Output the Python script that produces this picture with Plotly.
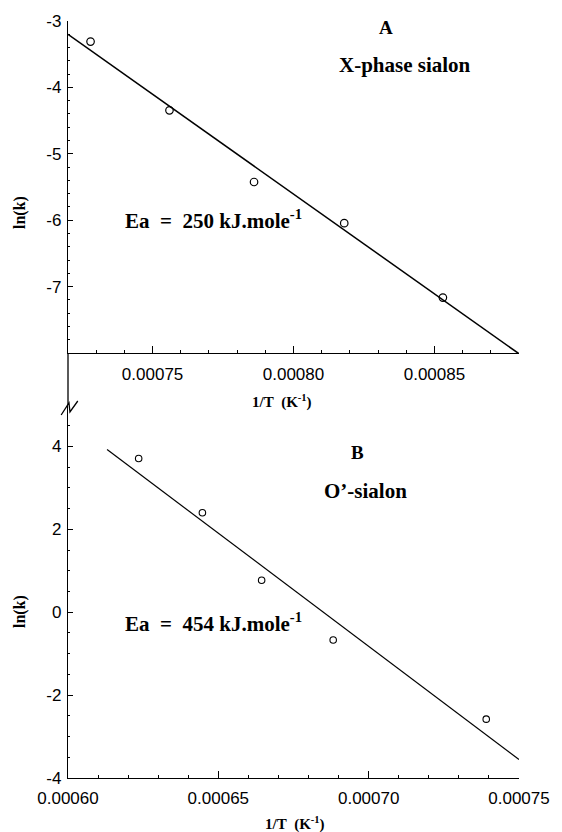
import numpy as np
import plotly.graph_objects as go

# Arrhenius data: reciprocal temperature (1/K) and ln(k)
inv_t_x = [0.000728, 0.000756, 0.000786, 0.000818, 0.000853]
lnk_x = [-3.31, -4.345, -5.425, -6.045, -7.165]

inv_t_o = [0.0006235, 0.0006447, 0.0006644, 0.0006882, 0.0007391]
lnk_o = [3.71, 2.40, 0.77, -0.67, -2.58]

# Fitted activation energies (kJ/mol) and ln(A) intercepts
ea_kj = [250, 454]
ln_a = [18.45, 37.40]
fit_span_x = [0.00072, 0.00088]
fit_span_o = [0.000613, 0.00075]

R = 8.314e-3  # kJ/(mol K)

W, H = 562, 832
ML, MR, MT, MB = 68, 33, 21, 54
PW, PH = W - ML - MR, H - MT - MB


def paper(xp, yp):
    return (xp - ML) / PW, (H - MB - yp) / PH


top_lo = paper(0, 353)[1]
bot_hi = paper(0, 405)[1]


def fit_line(span, ea, lna):
    xs = np.array(span)
    return xs, lna - ea / R * xs


TICKFONT = dict(family="Liberation Sans, Arial, sans-serif", size=17, color="black")
SERIF = "Liberation Serif, Times New Roman, serif"

fig = go.Figure()

fx, fy = fit_line(fit_span_x, ea_kj[0], ln_a[0])
fig.add_trace(go.Scatter(x=fx, y=fy, mode="lines", line=dict(color="black", width=1.5),
                         xaxis="x", yaxis="y", showlegend=False))
fig.add_trace(go.Scatter(x=inv_t_x, y=lnk_x, mode="markers",
                         marker=dict(symbol="circle-open", size=7.5, color="black", line=dict(width=1.2)),
                         xaxis="x", yaxis="y", showlegend=False))

gx, gy = fit_line(fit_span_o, ea_kj[1], ln_a[1])
fig.add_trace(go.Scatter(x=gx, y=gy, mode="lines", line=dict(color="black", width=1.2),
                         xaxis="x2", yaxis="y2", showlegend=False))
fig.add_trace(go.Scatter(x=inv_t_o, y=lnk_o, mode="markers",
                         marker=dict(symbol="circle-open", size=6.5, color="black", line=dict(width=1.1)),
                         xaxis="x2", yaxis="y2", showlegend=False))

axis_common = dict(showline=True, linecolor="black", linewidth=1.3, showgrid=False,
                   zeroline=False, ticks="inside", tickcolor="black", tickwidth=1.2,
                   tickfont=TICKFONT)

fig.update_layout(
    width=W, height=H,
    margin=dict(l=ML, r=MR, t=MT, b=MB),
    paper_bgcolor="white", plot_bgcolor="white",
    xaxis=dict(axis_common, domain=[0, 1], anchor="y", range=[0.00072, 0.00088],
               tickmode="linear", tick0=0.00075, dtick=0.00005, tickformat=".5f",
               ticklen=7, ticklabelstandoff=5,
               minor=dict(ticks="inside", ticklen=3, tickcolor="black", dtick=0.00001, tick0=0.00072)),
    yaxis=dict(axis_common, domain=[top_lo, 1], anchor="x", range=[-8, -3],
               tickmode="array", tickvals=[-3, -4, -5, -6, -7], ticktext=["-3", "-4", "-5", "-6", "-7"],
               ticklen=5, ticklabelstandoff=2,
               minor=dict(ticks="inside", ticklen=2, tickcolor="black", dtick=0.2, tick0=-8)),
    xaxis2=dict(axis_common, domain=[0, 1], anchor="y2", range=[0.0006, 0.00075],
                tickmode="linear", tick0=0.0006, dtick=0.00005, tickformat=".5f",
                ticklen=7, ticklabelstandoff=4,
                minor=dict(ticks="inside", ticklen=3, tickcolor="black", dtick=0.00001, tick0=0.0006)),
    yaxis2=dict(axis_common, domain=[0, bot_hi], anchor="x2", range=[-4, 5],
                tickmode="array", tickvals=[-4, -2, 0, 2, 4], ticktext=["-4", "-2", "0", "2", "4"],
                ticklen=5, ticklabelstandoff=2,
                minor=dict(ticks="inside", ticklen=2, tickcolor="black", dtick=0.5, tick0=-4)),
)

# continuous left spine between the two panels, with a break mark
fig.add_shape(type="line", xref="paper", yref="paper", x0=0, x1=0, y0=bot_hi, y1=top_lo,
              line=dict(color="black", width=1.3))
pts = [paper(61, 415), paper(69, 403), paper(70, 412), paper(78, 401)]
path = "M " + " L ".join(f"{x:.5f},{y:.5f}" for x, y in pts)
fig.add_shape(type="path", xref="paper", yref="paper", path=path,
              line=dict(color="black", width=1.3))


def label(text, xp, yp, size, xanchor="center", angle=0):
    x, y = paper(xp, yp)
    fig.add_annotation(text=text, x=x, y=y, xref="paper", yref="paper", showarrow=False,
                       xanchor=xanchor, yanchor="middle", textangle=angle,
                       font=dict(family=SERIF, size=size, color="black"))


ea_fmt = "<b>Ea&nbsp; =&nbsp; {} kJ.mole<sup>-1</sup></b>"
title_x = "<b>1/T&nbsp; (K<sup>-1</sup>)</b>"

label("<b>A</b>", 393, 28, 19)
label("<b>X-phase sialon</b>", 412.5, 65, 21)
label(ea_fmt.format(ea_kj[0]), 124, 219, 21, xanchor="left")
label("<b>B</b>", 364, 452, 19)
label("<b>O’-sialon</b>", 371.7, 491, 21)
label(ea_fmt.format(ea_kj[1]), 124, 622, 21, xanchor="left")
label(title_x, 287, 402, 15)
label(title_x, 300, 824, 15)
label("<b>ln(k)</b>", 19, 213, 16, angle=-90)
label("<b>ln(k)</b>", 19, 612, 16, angle=-90)

fig.write_html("out.html")
